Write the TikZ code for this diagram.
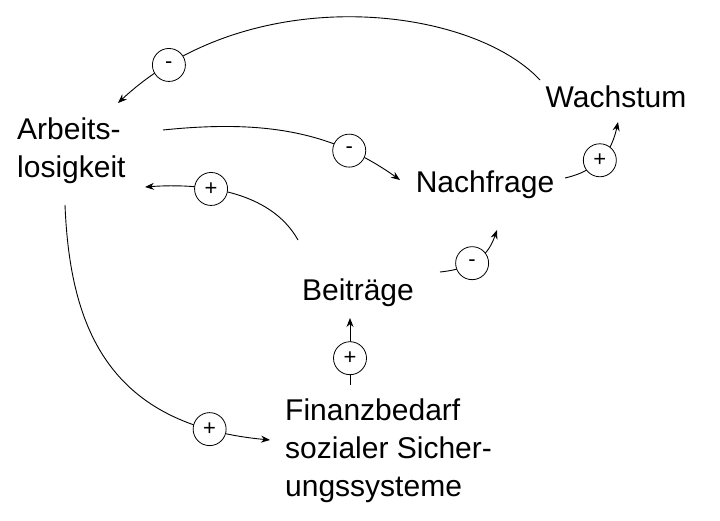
\documentclass[tikz,border=0pt]{standalone}
\usepackage{fontspec}
\setmainfont{Liberation Sans}
\usetikzlibrary{arrows.meta}
\begin{document}
\begin{tikzpicture}[x=1pt,y=-1pt,
  lbl/.style={font=\fontsize{30}{38}\selectfont,inner sep=0pt,align=left},
  sgn/.style={circle,draw,fill=white,line width=0.8pt,minimum size=33pt,inner sep=0pt,font=\fontsize{22}{22}\selectfont},
  con/.style={line width=0.9pt,-{Stealth[length=9pt,width=7pt]}}]
\useasboundingbox (0,0) rectangle (720,521);
\node[lbl] (w) at (616,97) {Wachstum};
\node[lbl,anchor=west] (a) at (17,151) {Arbeits-\\losigkeit};
\node[lbl] (n) at (485,185) {Nachfrage};
\node[lbl] (b) at (358,293) {Beiträge};
\node[lbl,anchor=west] (f) at (285,451) {Finanzbedarf\\sozialer Sicher-\\ungssysteme};
\coordinate (w1) at (540,80);
\coordinate (a1) at (118,103);
\coordinate (a2) at (163,130);
\coordinate (n1) at (400,180);
\coordinate (n2) at (565,178);
\coordinate (w2) at (618,122);
\coordinate (b1) at (298,240);
\coordinate (a3) at (145,187);
\coordinate (b2) at (440,272);
\coordinate (n3) at (497,230);
\coordinate (f1) at (350,385);
\coordinate (b3) at (350,318);
\coordinate (a4) at (65,205);
\coordinate (f2) at (270,440);
\draw[con] (w1) .. controls (470,5) and (250,-20) .. (a1) node[sgn,pos=0.88] {-};
\draw[con] (a2) .. controls (260,120) and (330,130) .. (n1) node[sgn,pos=0.76] {-};
\draw[con] (n2) .. controls (600,170) and (612,150) .. (w2) node[sgn,pos=0.45] {+};
\draw[con] (b1) .. controls (270,190) and (200,183) .. (a3) node[sgn,pos=0.62] {+};
\draw[con] (b2) .. controls (480,268) and (490,250) .. (n3) node[sgn,pos=0.35] {-};
\draw[con] (f1) -- (b3) node[sgn,pos=0.4] {+};
\draw[con] (a4) .. controls (70,330) and (110,425) .. (f2) node[sgn,pos=0.86] {+};
\end{tikzpicture}
\end{document}
